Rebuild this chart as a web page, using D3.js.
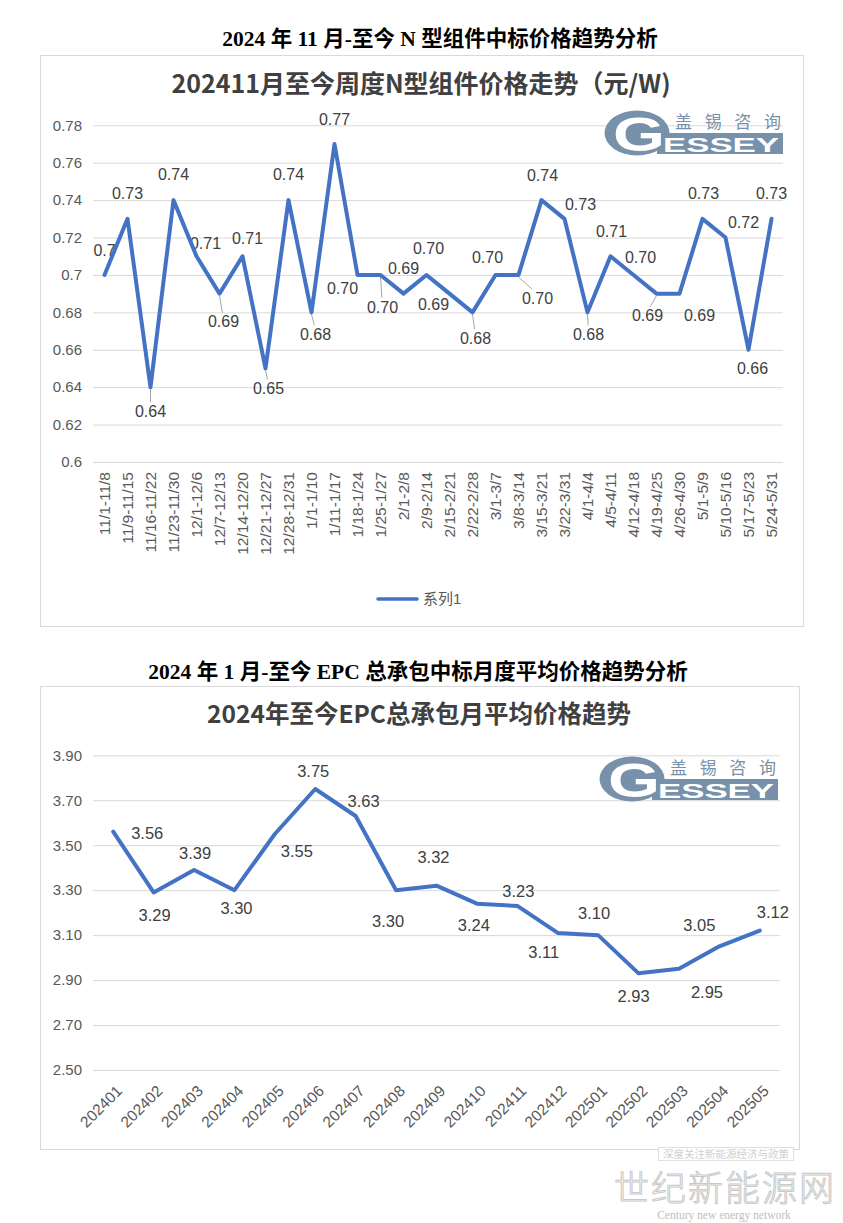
<!DOCTYPE html>
<html><head><meta charset="utf-8">
<script src="https://cdn.jsdelivr.net/npm/d3@7"></script>
<style>body{margin:0;background:#fff}svg{display:block}</style>
</head><body>
<svg id="c" width="843" height="1223"></svg>
<script>
// ---------- data: weekly N-type module prices ----------
const weeks = ["11/1-11/8","11/9-11/15","11/16-11/22","11/23-11/30","12/1-12/6","12/7-12/13","12/14-12/20","12/21-12/27","12/28-12/31","1/1-1/10","1/11-1/17","1/18-1/24","1/25-1/27","2/1-2/8","2/9-2/14","2/15-2/21","2/22-2/28","3/1-3/7","3/8-3/14","3/15-3/21","3/22-3/31","4/1-4/4","4/5-4/11","4/12-4/18","4/19-4/25","4/26-4/30","5/1-5/9","5/10-5/16","5/17-5/23","5/24-5/31"];
const weekPrices = [0.70,0.73,0.64,0.74,0.71,0.69,0.71,0.65,0.74,0.68,0.77,0.70,0.70,0.69,0.70,0.69,0.68,0.70,0.70,0.74,0.73,0.68,0.71,0.70,0.69,0.69,0.73,0.72,0.66,0.73];
const weekValueText = ["0.7","0.73","0.64","0.74","0.71","0.69","0.71","0.65","0.74","0.68","0.77","0.70","0.70","0.69","0.70","0.69","0.68","0.70","0.70","0.74","0.73","0.68","0.71","0.70","0.69","0.69","0.73","0.72","0.66","0.73"];
const weekTicks = [0.6,0.62,0.64,0.66,0.68,0.7,0.72,0.74,0.76,0.78];
const weekTickText = ["0.6","0.62","0.64","0.66","0.68","0.7","0.72","0.74","0.76","0.78"];
// label placement (offset of label centre from its point) and leader lines
const weekLabelOffset = [[0,-25],[0,-26],[0,24],[0,-26],[9,-13],[4,28],[5,-18],[3,20],[0,-26],[4,22],[0,-25],[-15,13],[2,32],[0,-25],[2,-27],[-16,11],[3,26],[-8,-18],[19,23],[1,-25],[16,-15],[1,22],[1,-25],[7,-18],[-9,22],[20,22],[1,-26],[18,-15],[4,18],[0,-26]];
const weekLeader = [false,false,true,false,false,true,false,true,false,true,false,false,true,false,false,false,true,false,true,false,false,true,false,false,true,false,false,false,false,false];

// ---------- data: monthly EPC prices ----------
const months = ["202401","202402","202403","202404","202405","202406","202407","202408","202409","202410","202411","202412","202501","202502","202503","202504","202505"];
const monthPrices = [3.56,3.29,3.39,3.30,3.55,3.75,3.63,3.30,3.32,3.24,3.23,3.11,3.10,2.93,2.95,3.05,3.12];
const monthTicks = [2.5,2.7,2.9,3.1,3.3,3.5,3.7,3.9];
const monthLabelOffset = [[34,1],[1,23],[1,-17],[2,18],[22,17],[-2,-18],[8,-15],[-8,31],[-3,-29],[-3,21],[1,-15],[-14,19],[-4,-22],[-5,23],[28,23],[-20,-21],[13,-19]];

const svg = d3.select("#c");
const BLUE = "#4472C4", GRID = "#d9d9d9", AX = "#595959", LBL = "#404040";
const SANS = "'Liberation Sans','Noto Sans CJK SC',sans-serif";
const HEAD = "'Liberation Serif','Noto Sans CJK SC',serif";

// headings & boxes
svg.append("text").attr("x",440).attr("y",46).attr("text-anchor","middle")
  .style("font-family",HEAD).style("font-weight","bold").style("font-size","21.5px").attr("fill","#000")
  .text("2024 年 11 月-至今 N 型组件中标价格趋势分析");
svg.append("rect").attr("x",40.5).attr("y",55.5).attr("width",763).attr("height",571).attr("fill","#fff").attr("stroke",GRID);
svg.append("text").attr("x",418).attr("y",679).attr("text-anchor","middle")
  .style("font-family",HEAD).style("font-weight","bold").style("font-size","21.5px").attr("fill","#000")
  .text("2024 年 1 月-至今 EPC 总承包中标月度平均价格趋势分析");
svg.append("rect").attr("x",40.5).attr("y",686.5).attr("width",759).attr("height",463).attr("fill","#fff").attr("stroke",GRID);

function logo(tx, ty) {
  const g = svg.append("g").attr("transform",`translate(${tx},${ty})`);
  const C = "#7891aa";
  g.append("ellipse").attr("cx",32).attr("cy",23).attr("rx",32.5).attr("ry",22.5).attr("fill",C);
  g.append("rect").attr("x",52).attr("y",23).attr("width",126).attr("height",21).attr("fill",C);
  g.append("text").attr("x",8).attr("y",41)
    .attr("textLength",52).attr("lengthAdjust","spacingAndGlyphs")
    .style("font-family",SANS).style("font-weight","bold").style("font-size","48px").attr("fill","#fff").text("G");
  g.append("text").attr("x",58).attr("y",42).attr("textLength",116).attr("lengthAdjust","spacingAndGlyphs")
    .style("font-family",SANS).style("font-weight","bold").style("font-size","21px").attr("fill","#fff").text("ESSEY");
  g.append("text").attr("x",70).attr("y",18).attr("textLength",106).attr("lengthAdjust","spacing")
    .style("font-family","'Noto Sans CJK SC'").style("font-size","17px").attr("fill",C).text("盖锡咨询");
}

// ============ TOP CHART ============
{
  svg.append("text").attr("x",421).attr("y",93).attr("text-anchor","middle")
    .style("font-family","'Noto Sans CJK SC',sans-serif").style("font-weight","bold").style("font-size","25px")
    .attr("fill",LBL).text("202411月至今周度N型组件价格走势（元/W)");
  const L = 93, R = 783;
  const x = d3.scaleBand().domain(weeks).range([L,R]);
  const cx = d => x(d) + x.bandwidth()/2;
  const y = d3.scaleLinear().domain([0.6,0.78]).range([462,125.3]);

  svg.append("g").attr("transform",`translate(${L},0)`)
    .call(d3.axisLeft(y).tickValues(weekTicks).tickSize(-(R-L)).tickFormat(""))
    .call(g=>g.select(".domain").remove())
    .call(g=>g.selectAll("line").attr("stroke",GRID));
  svg.append("g").attr("transform",`translate(${L},0)`)
    .call(d3.axisLeft(y).tickValues(weekTicks).tickSize(0).tickPadding(11).tickFormat((d,i)=>weekTickText[i]))
    .call(g=>g.select(".domain").remove())
    .call(g=>g.selectAll("text").attr("fill",AX).style("font-family",SANS).style("font-size","15px"));
  svg.append("g").attr("transform",`translate(0,462)`)
    .call(d3.axisBottom(x).tickSize(0))
    .call(g=>g.select(".domain").remove())
    .call(g=>g.selectAll("text").attr("fill",AX).style("font-family",SANS).style("font-size","15.5px")
      .attr("transform","rotate(-90)").attr("x",-10).attr("y",0).attr("dy","0.36em").style("text-anchor","end"));

  logo(605,110);

  const pts = weeks.map((w,i)=>({x:cx(w), y:y(weekPrices[i]), i}));
  svg.append("g").selectAll("line").data(pts.filter(p=>weekLeader[p.i])).join("line")
    .attr("x1",p=>p.x).attr("y1",p=>p.y+ (weekLabelOffset[p.i][1]>0?2:-2))
    .attr("x2",p=>p.x+weekLabelOffset[p.i][0]*0.7).attr("y2",p=>p.y+weekLabelOffset[p.i][1]-(weekLabelOffset[p.i][1]>0?9:-9))
    .attr("stroke","#a6a6a6").attr("stroke-width",1);
  svg.append("g").selectAll("text").data(pts).join("text")
    .attr("x",p=>p.x+weekLabelOffset[p.i][0]).attr("y",p=>p.y+weekLabelOffset[p.i][1]).attr("dy","0.36em")
    .attr("text-anchor","middle").style("font-family",SANS).style("font-size","16px").attr("fill",LBL)
    .text(p=>weekValueText[p.i]);
  svg.append("path").datum(pts).attr("fill","none").attr("stroke",BLUE).attr("stroke-width",4)
    .attr("stroke-linejoin","round").attr("stroke-linecap","round")
    .attr("d",d3.line().x(p=>p.x).y(p=>p.y));

  svg.append("line").attr("x1",378).attr("x2",417).attr("y1",599).attr("y2",599).attr("stroke",BLUE).attr("stroke-width",3.5).attr("stroke-linecap","round");
  svg.append("text").attr("x",423).attr("y",599).attr("dy","0.36em").style("font-family",SANS).style("font-size","15px").attr("fill",AX).text("系列1");
}

// ============ BOTTOM CHART ============
{
  svg.append("text").attr("x",419).attr("y",723).attr("text-anchor","middle")
    .style("font-family","'Noto Sans CJK SC',sans-serif").style("font-weight","bold").style("font-size","24.5px")
    .attr("fill",LBL).text("2024年至今EPC总承包月平均价格趋势");
  const L = 93, R = 780;
  const x = d3.scaleBand().domain(months).range([L,R]);
  const cx = d => x(d) + x.bandwidth()/2;
  const y = d3.scaleLinear().domain([2.5,3.9]).range([1070,755.3]);

  svg.append("g").attr("transform",`translate(${L},0)`)
    .call(d3.axisLeft(y).tickValues(monthTicks).tickSize(-(R-L)).tickFormat(""))
    .call(g=>g.select(".domain").remove())
    .call(g=>g.selectAll("line").attr("stroke",GRID));
  svg.append("g").attr("transform",`translate(${L},0)`)
    .call(d3.axisLeft(y).tickValues(monthTicks).tickSize(0).tickPadding(11).tickFormat(d3.format(".2f")))
    .call(g=>g.select(".domain").remove())
    .call(g=>g.selectAll("text").attr("fill",AX).style("font-family",SANS).style("font-size","15px"));
  svg.append("g").attr("transform",`translate(0,1070)`)
    .call(d3.axisBottom(x).tickSize(0))
    .call(g=>g.select(".domain").remove())
    .call(g=>g.selectAll("text").attr("fill",AX).style("font-family",SANS).style("font-size","15.5px")
      .attr("x",0).attr("y",0).attr("dy","0.36em").attr("transform","translate(6,18) rotate(-45)").style("text-anchor","end"));

  logo(600,756);

  const pts = months.map((m,i)=>({x:cx(m), y:y(monthPrices[i]), i}));
  svg.append("g").selectAll("text").data(pts).join("text")
    .attr("x",p=>p.x+monthLabelOffset[p.i][0]).attr("y",p=>p.y+monthLabelOffset[p.i][1]).attr("dy","0.36em")
    .attr("text-anchor","middle").style("font-family",SANS).style("font-size","16.5px").attr("fill",LBL)
    .text(p=>d3.format(".2f")(monthPrices[p.i]));
  svg.append("path").datum(pts).attr("fill","none").attr("stroke",BLUE).attr("stroke-width",4)
    .attr("stroke-linejoin","round").attr("stroke-linecap","round")
    .attr("d",d3.line().x(p=>p.x).y(p=>p.y));
}

// ============ WATERMARK ============
svg.append("rect").attr("x",658.5).attr("y",1147.5).attr("width",135).attr("height",13).attr("fill","#fff").attr("stroke","#e0e0e0");
svg.append("text").attr("x",726).attr("y",1154).attr("dy","0.36em").attr("text-anchor","middle")
  .style("font-family","'Noto Sans CJK SC'").style("font-size","10.5px").attr("fill","#d0d0d0").text("深度关注新能源经济与政策");
svg.append("text").attr("x",724).attr("y",1201).attr("text-anchor","middle")
  .style("font-family","'Noto Sans CJK SC'").style("font-size","35px").style("font-weight","300")
  .attr("textLength",220).attr("lengthAdjust","spacing")
  .attr("fill","#fff").attr("stroke","#c8c8c8").attr("stroke-width",1).text("世纪新能源网");
svg.append("text").attr("x",724).attr("y",1219).attr("text-anchor","middle")
  .style("font-family","'Liberation Serif',serif").style("font-size","11.5px").attr("fill","#c0c0c0").text("Century new energy network");
</script>
</body></html>
